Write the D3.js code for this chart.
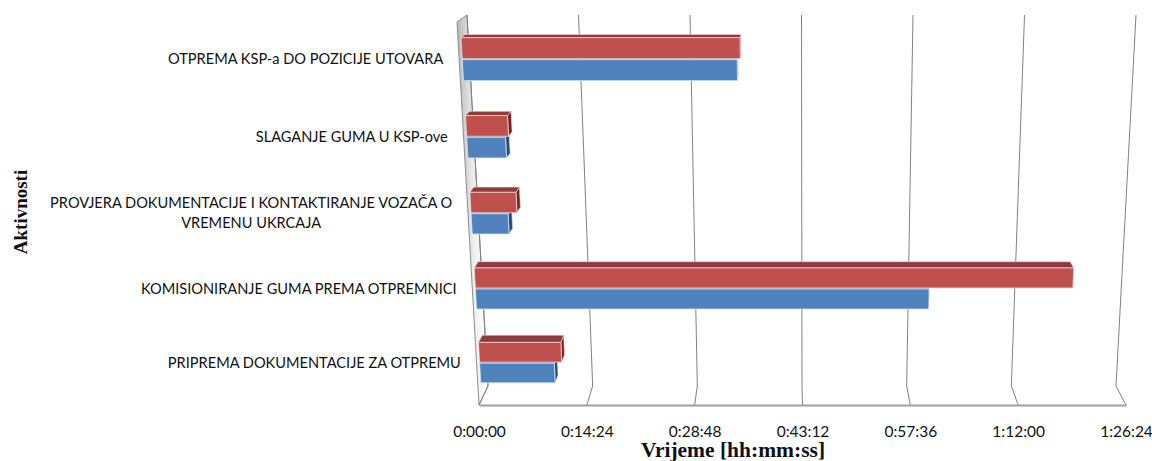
<!DOCTYPE html>
<html>
<head>
<meta charset="utf-8">
<script src="https://cdn.jsdelivr.net/npm/d3@7"></script>
<style>
    body { margin: 0; background: #fff; }
    svg { display: block; }
    .cat { font-family: Lato, 'Open Sans', sans-serif; font-size: 14.6px; fill: #111; }
    .tick text { font-family: Lato, 'Open Sans', sans-serif; font-size: 15.5px; fill: #111; }
    .title { font-family: 'Liberation Serif', 'DejaVu Serif', serif; font-weight: bold; fill: #111; }
</style>
</head>
<body>
<svg id="chart" width="1152" height="461"></svg>
<script>
// categories from bottom to top (Excel order)
let categories = [
    'PRIPREMA DOKUMENTACIJE ZA OTPREMU',
    'KOMISIONIRANJE GUMA PREMA OTPREMNICI',
    'PROVJERA DOKUMENTACIJE I KONTAKTIRANJE VOZAČA O VREMENU UKRCAJA',
    'SLAGANJE GUMA U KSP-ove',
    'OTPREMA KSP-a DO POZICIJE UTOVARA'
];
// durations in seconds
let seriesBlue = [600, 3600, 290, 300, 2100];
let seriesRed = [660, 4740, 360, 324, 2124];
let tickValues = [0, 864, 1728, 2592, 3456, 4320, 5184];
let tickLabels = ['0:00:00', '0:14:24', '0:28:48', '0:43:12', '0:57:36', '1:12:00', '1:26:24'];

function init() {
    let svg = d3.select('#chart');

    // 3d box of the plot: [left, right] screen points for each edge
    let frame = {
        frontBottom: [[479, 405], [1126, 405]],
        backBottom: [[488, 386], [1116, 386]],
        backTop: [[467, 15], [1136, 15]],
        frontTop: [[457, 22], [1146, 22]]
    };
    let persp = 1.039;
    let lerp = (a, b, t) => a + (b - a) * t;

    // u: value 0..1, h: height 0..1, d: depth 0 (front) .. 1 (back)
    function project(u, h, d) {
        let w = h / (persp - (persp - 1) * h);
        let pt = e => [lerp(e[0][0], e[1][0], u), lerp(e[0][1], e[1][1], u)];
        let fb = pt(frame.frontBottom), bb = pt(frame.backBottom);
        let bt = pt(frame.backTop), ft = pt(frame.frontTop);
        let bot = [lerp(fb[0], bb[0], d), lerp(fb[1], bb[1], d)];
        let top = [lerp(ft[0], bt[0], d), lerp(ft[1], bt[1], d)];
        return [lerp(bot[0], top[0], w), lerp(bot[1], top[1], w)];
    }

    let x = d3.scaleLinear().domain([0, 5184]).range([0, 1]);
    let y = d3.scaleBand().domain(categories).range([0, 1]).paddingInner(0.45).paddingOuter(0.225);
    let ySub = d3.scaleBand().domain([0, 1]).range([0, y.bandwidth()]).paddingInner(0.05);
    let line = d3.line();

    // left wall
    let grad = svg.append('defs').append('linearGradient').attr('id', 'wall')
        .attr('x1', '0%').attr('x2', '100%').attr('y1', '0%').attr('y2', '0%');
    grad.append('stop').attr('offset', '0%').attr('stop-color', '#b8b8b8');
    grad.append('stop').attr('offset', '55%').attr('stop-color', '#efefef');
    grad.append('stop').attr('offset', '100%').attr('stop-color', '#ffffff');
    svg.append('path')
        .attr('d', line([project(0, 0, 0), project(0, 0, 1), project(0, 1, 1), project(0, 1, 0)]) + 'Z')
        .attr('fill', 'url(#wall)')
        .attr('stroke', '#8c8c8c')
        .attr('stroke-width', 1);

    // gridlines on floor and back wall
    svg.append('g').selectAll('path').data(tickValues).join('path')
        .attr('d', t => line([project(x(t), 0, 0), project(x(t), 0, 1), project(x(t), 1, 1)]))
        .attr('fill', 'none')
        .attr('stroke', '#808080')
        .attr('stroke-width', 1);

    // bottom axis along the front floor edge
    let front = d3.scaleLinear().domain([0, 5184])
        .range([project(0, 0, 0)[0], project(1, 0, 0)[0]]);
    let axis = svg.append('g').attr('transform', 'translate(0,' + project(0, 0, 0)[1] + ')')
        .call(d3.axisBottom(front).tickValues(tickValues).tickFormat((d, i) => tickLabels[i]).tickSize(0).tickSizeOuter(0));
    axis.select('.domain').attr('stroke', '#a0a0a0').attr('stroke-width', 2);
    axis.selectAll('.tick text').attr('y', 32).attr('dy', 0).attr('font-size', null).attr('font-family', null);

    // bars
    let df = 0.3, db = 0.72;
    let series = [
        { values: seriesBlue, front: '#4f81bd', top: '#3d6796', side: '#2a4a73', edge: '#dbe6f3' },
        { values: seriesRed, front: '#c0504d', top: '#8f3b39', side: '#6e2826', edge: '#f5d9d8' }
    ];
    let bars = [];
    series.forEach((s, si) => {
        categories.forEach((c, ci) => {
            let h0 = y(c) + ySub(si);
            bars.push({ u: x(s.values[ci]), h0: h0, h1: h0 + ySub.bandwidth(), s: s });
        });
    });
    let barG = svg.append('g').selectAll('g').data(bars).join('g');
    barG.each(function (b) {
        let g = d3.select(this);
        let rightVisible = project(b.u, b.h1, db)[0] > project(b.u, b.h1, df)[0];
        if (rightVisible) {
            g.append('path')
                .attr('d', line([project(b.u, b.h0, df), project(b.u, b.h0, db), project(b.u, b.h1, db), project(b.u, b.h1, df)]) + 'Z')
                .attr('fill', b.s.side).attr('stroke', b.s.edge).attr('stroke-width', 0.6);
        }
        g.append('path')
            .attr('d', line([project(0, b.h1, df), project(b.u, b.h1, df), project(b.u, b.h1, db), project(0, b.h1, db)]) + 'Z')
            .attr('fill', b.s.top).attr('stroke', b.s.edge).attr('stroke-width', 0.6);
        g.append('path')
            .attr('d', line([project(0, b.h0, df), project(b.u, b.h0, df), project(b.u, b.h1, df), project(0, b.h1, df)]) + 'Z')
            .attr('fill', b.s.front).attr('stroke', b.s.edge).attr('stroke-width', 0.8);
    });

    // category labels, wrapped and centred, right edge following the wall
    let maxWidth = 440;
    let labels = svg.append('g').selectAll('text').data(categories).join('text')
        .attr('class', 'cat');
    labels.each(function (c) {
        let t = d3.select(this);
        let words = c.split(' ');
        let lines = [];
        let cur = '';
        words.forEach(wd => {
            let test = cur ? cur + ' ' + wd : wd;
            t.text(test);
            if (cur && this.getComputedTextLength() > maxWidth) {
                lines.push(cur);
                cur = wd;
            } else {
                cur = test;
            }
        });
        lines.push(cur);
        t.text(null);
        let widths = lines.map(l => {
            t.text(l);
            return this.getComputedTextLength();
        });
        t.text(null);
        let hc = y(c) + y.bandwidth() / 2;
        let p = project(0, hc, 0);
        let cx = p[0] - 16 - d3.max(widths) / 2;
        let cy = project(0, hc, df)[1] + 5 - (lines.length - 1) * 10;
        t.attr('text-anchor', 'middle');
        lines.forEach((l, i) => {
            t.append('tspan').attr('x', cx).attr('y', cy + i * 20).text(l);
        });
    });

    // axis titles
    svg.append('text').attr('class', 'title')
        .attr('transform', 'translate(27,212) rotate(-90)')
        .attr('text-anchor', 'middle')
        .attr('font-size', 19)
        .text('Aktivnosti');
    svg.append('text').attr('class', 'title')
        .attr('x', 733).attr('y', 457)
        .attr('text-anchor', 'middle')
        .attr('font-size', 21.5)
        .text('Vrijeme [hh:mm:ss]');
}

init();
</script>
</body>
</html>
